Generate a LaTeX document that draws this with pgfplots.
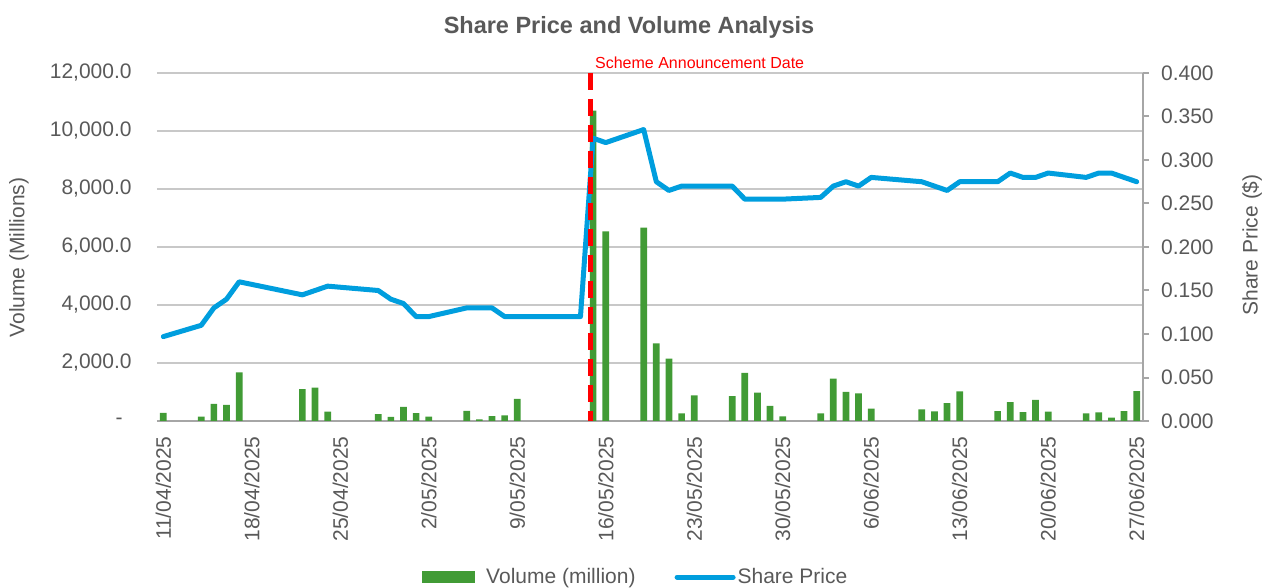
\documentclass[border=0pt]{standalone}
\usepackage{pgfplots}
\pgfplotsset{compat=1.18}
\usepackage{fontspec}
\setmainfont{Liberation Sans}
\definecolor{txtgray}{HTML}{595959}
\definecolor{gridgray}{HTML}{C8C8C8}
\definecolor{axisgray}{HTML}{A6A6A6}
\definecolor{barGreen}{RGB}{65,155,53}
\definecolor{priceBlue}{RGB}{0,158,222}
\begin{document}
\begin{tikzpicture}
\begin{axis}[
  scale only axis, width=493pt, height=174pt,
  xmin=-0.5, xmax=77.5, ymin=0, ymax=12000,
  scaled y ticks=false,
  axis x line*=bottom, axis y line*=left,
  x axis line style={draw=axisgray, line width=1pt, -},
  y axis line style={draw=none, -},
  major tick length=0pt,
  xtick={0,7,14,21,28,35,42,49,56,63,70,77},
  xticklabels={11/04/2025,18/04/2025,25/04/2025,2/05/2025,9/05/2025,16/05/2025,23/05/2025,30/05/2025,6/06/2025,13/06/2025,20/06/2025,27/06/2025},
  xticklabel style={rotate=90, anchor=east, inner sep=0pt, font=\fontsize{10.5}{12}\selectfont, text=txtgray},
  xticklabel shift=7.5pt,
  ytick={0,2000,4000,6000,8000,10000,12000},
  yticklabels={{\makebox[8pt][l]{-}},{2,000.0},{4,000.0},{6,000.0},{8,000.0},{10,000.0},{12,000.0}},
  yticklabel style={anchor=east, inner sep=0pt, xshift=-12.5pt, font=\fontsize{10.5}{12}\selectfont, text=txtgray},
  ymajorgrids, grid style={gridgray, line width=0.75pt},
  ylabel={Volume (Millions)},
  ylabel style={at={(axis description cs:-0.140,0.47)}, anchor=center, font=\fontsize{10.5}{12}\selectfont, text=txtgray},
]
\addplot[ybar, bar width=0.53, fill=barGreen, draw=none] coordinates {
(0,280) (3,150) (4,590) (5,560) (6,1680)
(11,1100) (12,1150) (13,320)
(17,240) (18,140) (19,490) (20,270) (21,150)
(24,350) (25,60) (26,170) (27,190) (28,760)
(34,10700) (35,6540)
(38,6670) (39,2680) (40,2150) (41,260) (42,880)
(45,860) (46,1660) (47,980) (48,520) (49,160)
(52,260) (53,1460) (54,1000) (55,950) (56,430)
(60,400) (61,330) (62,620) (63,1020)
(66,340) (67,650) (68,310) (69,730) (70,320)
(73,260) (74,300) (75,120) (76,340) (77,1030)
};
\end{axis}
\begin{axis}[
  scale only axis, width=493pt, height=174pt,
  xmin=-0.5, xmax=77.5, ymin=0, ymax=0.4,
  clip=false,
  axis x line=none,
  axis y line*=right,
  y axis line style={draw=axisgray, line width=1pt, -},
  tick align=outside, major tick length=3pt,
  ytick style={draw=axisgray, line width=1pt},
  ytick={0,0.05,0.1,0.15,0.2,0.25,0.3,0.35,0.4},
  yticklabels={0.000,0.050,0.100,0.150,0.200,0.250,0.300,0.350,0.400},
  yticklabel style={anchor=west, inner sep=0pt, xshift=5.85pt, font=\fontsize{10.5}{12}\selectfont, text=txtgray},
  ylabel={Share Price (\$)},
  ylabel style={at={(axis description cs:1.1106,0.506)}, anchor=center, font=\fontsize{10.5}{12}\selectfont, text=txtgray},
  title={Share Price and Volume Analysis},
  title style={at={(axis description cs:0.4787,1)}, anchor=base, yshift=13.5pt, font=\bfseries\fontsize{11.75}{14}\selectfont, text=txtgray},
  legend columns=2,
  legend style={at={(axis description cs:0.2688,-0.4483)}, anchor=west, draw=none, fill=none, inner sep=0pt,
    font=\fontsize{10.5}{12}\selectfont, text=txtgray, nodes={inner sep=0pt}},
]
\addlegendimage{legend image code/.code={\fill[barGreen] (0pt,-2.7pt) rectangle (26pt,2.7pt); \path (31.5pt,0pt);}}
\addlegendentry{Volume (million)}
\addplot[priceBlue, line width=2.5pt, line cap=round, line join=round,
  legend image code/.code={\path (-19.5pt,0pt); \draw[priceBlue, line width=2.5pt, line cap=round] (0pt,0pt) -- (28pt,0pt); \path (29pt,0pt);}] coordinates {
(0,0.097) (3,0.110) (4,0.130) (5,0.140) (6,0.160)
(11,0.145) (12,0.150) (13,0.155)
(17,0.150) (18,0.140) (19,0.135) (20,0.120) (21,0.120)
(24,0.130) (25,0.130) (26,0.130) (27,0.120) (28,0.120)
(31,0.120) (32,0.120) (33,0.120) (34,0.325) (35,0.320)
(38,0.335) (39,0.275) (40,0.265) (41,0.270) (42,0.270)
(45,0.270) (46,0.255) (47,0.255) (48,0.255) (49,0.255)
(52,0.257) (53,0.270) (54,0.275) (55,0.270) (56,0.280)
(60,0.275) (61,0.270) (62,0.265) (63,0.275)
(66,0.275) (67,0.285) (68,0.280) (69,0.280) (70,0.285)
(73,0.280) (74,0.285) (75,0.285) (76,0.280) (77,0.275)
};
\addlegendentry{Share Price}
\addplot[red, line width=2.15pt, dash pattern=on 8.3pt off 4.7pt, forget plot] coordinates {(33.8,0.4) (33.8,0)};
\node[anchor=base west, inner sep=0pt, text=red, font=\fontsize{8}{9.6}\selectfont] at (axis cs:34.13,0.4) [yshift=2pt] {Scheme Announcement Date};
\end{axis}
\pgfresetboundingbox
\path[use as bounding box] (-78.5pt,-83.5pt) rectangle (552.5pt,210.5pt);
\end{tikzpicture}
\end{document}
